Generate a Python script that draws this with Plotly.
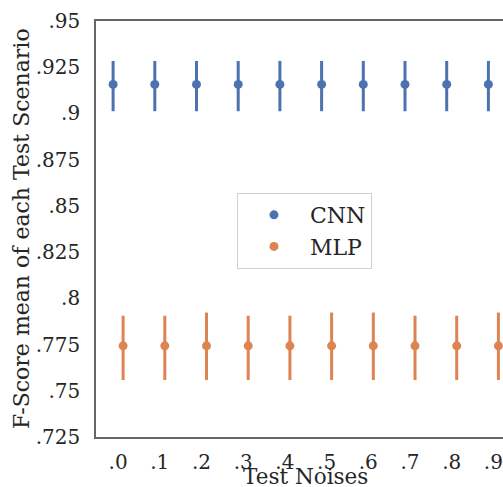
import numpy as np
import plotly.graph_objects as go

# test noise levels (categories)
noise_labels = ['.0', '.1', '.2', '.3', '.4', '.5', '.6', '.7', '.8', '.9']

# mean F-score per noise level, with upper / lower CI half-lengths
cnn_mean = [0.9157, 0.9157, 0.9157, 0.9157, 0.9157, 0.9157, 0.9157, 0.9157, 0.9157, 0.9157]
cnn_up = [0.0127, 0.0127, 0.0127, 0.0127, 0.0127, 0.0127, 0.0127, 0.0127, 0.0127, 0.0127]
cnn_down = [0.0145, 0.0145, 0.0145, 0.0145, 0.0145, 0.0145, 0.0145, 0.0145, 0.0145, 0.0145]

mlp_mean = [0.7743, 0.7743, 0.7743, 0.7743, 0.7743, 0.7743, 0.7743, 0.7743, 0.7743, 0.7743]
mlp_up = [0.0163, 0.0163, 0.0180, 0.0163, 0.0163, 0.0180, 0.0180, 0.0163, 0.0163, 0.0180]
mlp_down = [0.0185, 0.0185, 0.0185, 0.0185, 0.0185, 0.0185, 0.0185, 0.0185, 0.0185, 0.0185]

y_ticks = [0.725, 0.75, 0.775, 0.8, 0.825, 0.85, 0.875, 0.9, 0.925, 0.95]
y_tick_text = ['.725', '.75', '.775', '.8', '.825', '.85', '.875', '.9', '.925', '.95']

x_title = 'Test Noises'
y_title = 'F-Score mean of each Test Scenario'

pos = np.arange(len(noise_labels))
dodge = 0.12

fig = go.Figure()
for name, mean, up, down, col, shift in [
    ('CNN', cnn_mean, cnn_up, cnn_down, '#4C72B0', -dodge),
    ('MLP', mlp_mean, mlp_up, mlp_down, '#DD8452', dodge),
]:
    fig.add_trace(go.Scatter(
        x=pos + shift, y=mean, name=name, mode='markers', legendgroup=name,
        marker=dict(color=col, size=9),
        error_y=dict(type='data', array=up, arrayminus=down,
                     color=col, thickness=3, width=0),
        cliponaxis=False,
    ))

# axis titles as annotations so they sit where the original has them
fig.add_annotation(text=x_title, xref='x', x=(pos[0] + pos[-1]) / 2, yref='paper', y=0,
                   yanchor='middle', yshift=-39, showarrow=False,
                   font=dict(size=21.5))
fig.add_annotation(text=y_title, xref='paper', x=0, yref='paper', y=0.5,
                   xanchor='center', xshift=-75, textangle=-90, showarrow=False,
                   font=dict(size=22))

font = 'DejaVu Serif'
fig.update_layout(
    width=503, height=487,
    margin=dict(l=96, r=0, t=21, b=50, autoexpand=False),
    plot_bgcolor='white', paper_bgcolor='white',
    font=dict(family=font, size=20, color='#262626'),
    legend=dict(x=0.3464, y=0.5865, xanchor='left', yanchor='top',
                bordercolor='#d0d0d0', borderwidth=1, bgcolor='white',
                font=dict(size=22), itemwidth=62, tracegroupgap=0),
    xaxis=dict(range=[-0.53, 9.23], tickvals=pos, ticktext=noise_labels,
               showgrid=False, zeroline=False, showline=True, linecolor='#666',
               linewidth=1.6, mirror=True, ticks='', ticklabelstandoff=6,
               automargin=False),
    yaxis=dict(range=[0.725, 0.95], tickvals=y_ticks, ticktext=y_tick_text,
               showgrid=False, zeroline=False, showline=True, linecolor='#666',
               linewidth=1.6, ticks='', ticklabelstandoff=10, automargin=False),
)

fig.write_html('out.html', config={'displayModeBar': False},
               post_script="document.body.style.margin='0';")
